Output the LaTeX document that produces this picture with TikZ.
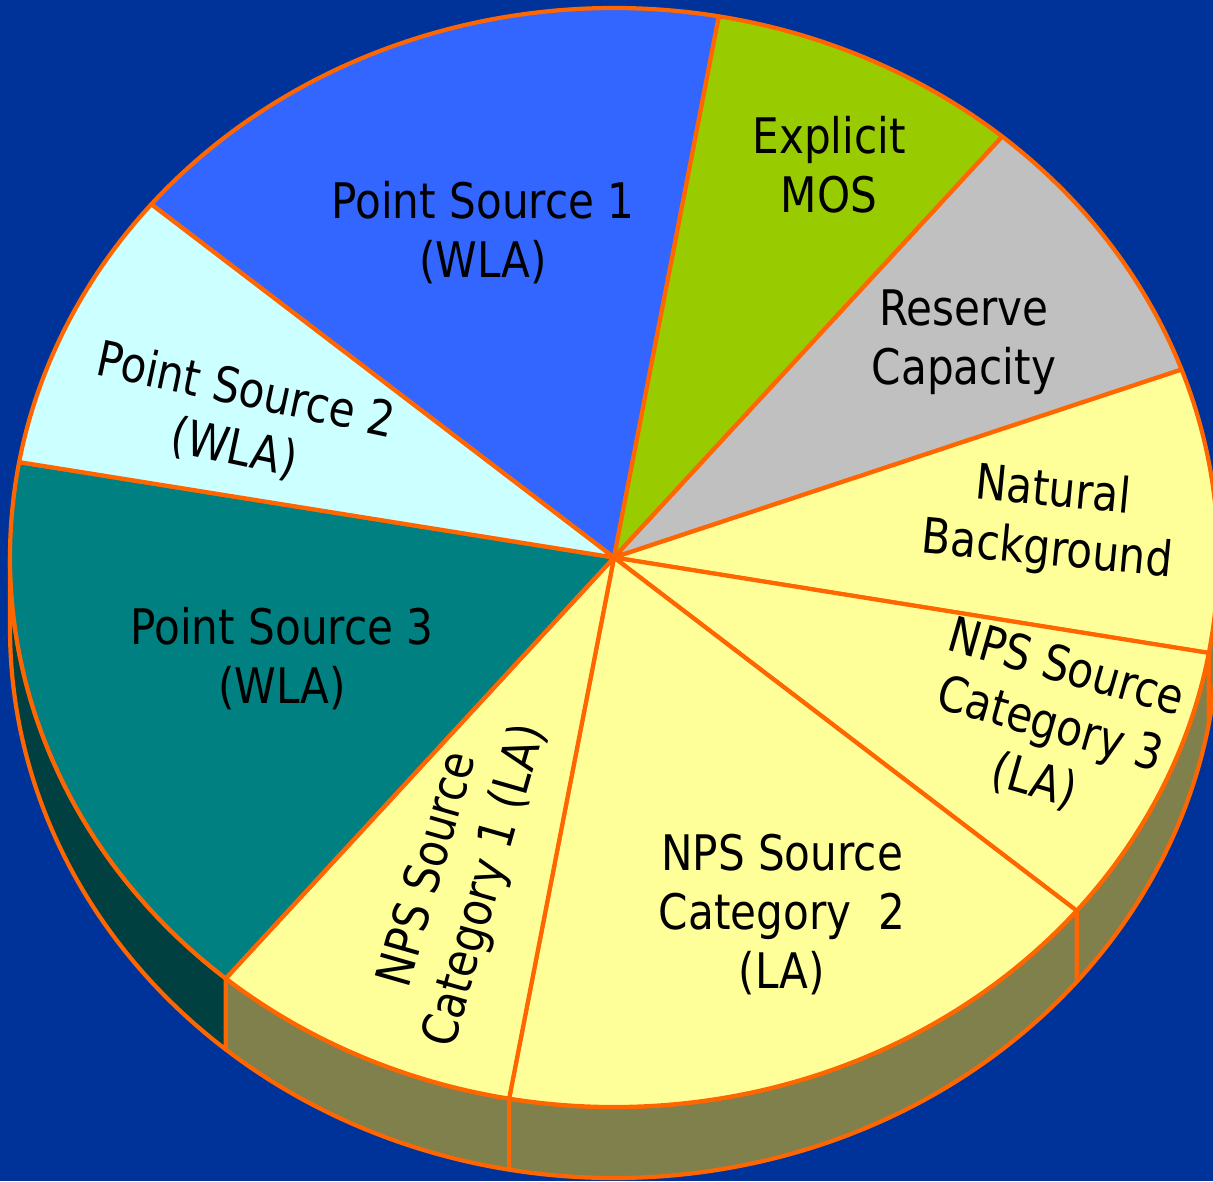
\documentclass[tikz,border=0pt]{standalone}
\usepackage{fontspec}
\setmainfont{DejaVu Sans}[FakeStretch=0.86]
\definecolor{bg}{RGB}{0,51,153}
\definecolor{ps1}{RGB}{51,102,255}
\definecolor{mos}{RGB}{153,204,0}
\definecolor{res}{RGB}{192,192,192}
\definecolor{yel}{RGB}{255,255,153}
\definecolor{ps2}{RGB}{204,255,255}
\definecolor{ps3}{RGB}{0,128,128}
\definecolor{edge}{RGB}{255,102,0}
\definecolor{ps3side}{RGB}{0,64,64}
\definecolor{yelside}{RGB}{128,128,77}
\newcommand\sideseg[3]{\filldraw[slice,fill=#1] (#2:604 and 549.5) arc[start angle=#2,end angle=#3,x radius=604,y radius=549.5] -- ++(0,71) arc[start angle=#3,end angle=#2,x radius=604,y radius=549.5] -- cycle;}
\newcommand\topslice[3]{\filldraw[slice,fill=#1] (0,0) -- (#2:604 and 549.5) arc[start angle=#2,end angle=#3,x radius=604,y radius=549.5] -- cycle;}
\begin{document}
\begin{tikzpicture}[x=1pt,y=-1pt,
  slice/.style={draw=edge,line width=4.2pt,line join=round},
  lbl/.style={align=center,font=\fontsize{49}{59}\selectfont,text=black,inner sep=0pt}]
\useasboundingbox (0,0) rectangle (1213,1181);
\fill[bg] (0,0) rectangle (1213,1181);
\begin{scope}[shift={(614,557.5)}]
  % side walls
  \sideseg{yelside}{0}{10}
  \sideseg{yelside}{10}{40}
  \sideseg{yelside}{40}{100}
  \sideseg{yelside}{100}{130}
  \sideseg{ps3side}{130}{180}
  % top face
  \topslice{ps1}{220}{280}
  \topslice{mos}{280}{310}
  \topslice{res}{310}{340}
  \topslice{yel}{340}{370}
  \topslice{yel}{10}{40}
  \topslice{yel}{40}{100}
  \topslice{yel}{100}{130}
  \topslice{ps3}{130}{190}
  \topslice{ps2}{190}{220}
\end{scope}
\node[lbl] (l1) at (483,233) {Point Source 1\\(WLA)};
\node[lbl] (l2) at (829,165) {Explicit\\MOS};
\node[lbl] (l3) at (964,342) {Reserve\\Capacity};
\node[lbl,rotate=-5.5] (l4) at (1050,522) {Natural\\Background};
\node[lbl,rotate=-16] (l5) at (1050,725) {NPS Source\\Category 3\\(LA)};
\node[lbl] (l6) at (782,915) {NPS Source\\Category~~2\\(LA)};
\node[lbl,rotate=74] (l7) at (458,878) {NPS Source\\Category 1 (LA)};
\node[lbl,rotate=-12] (l8) at (240,420) {Point Source 2\\(WLA)};
\node[lbl] (l9) at (282,659) {Point Source 3\\(WLA)};
\end{tikzpicture}
\end{document}
